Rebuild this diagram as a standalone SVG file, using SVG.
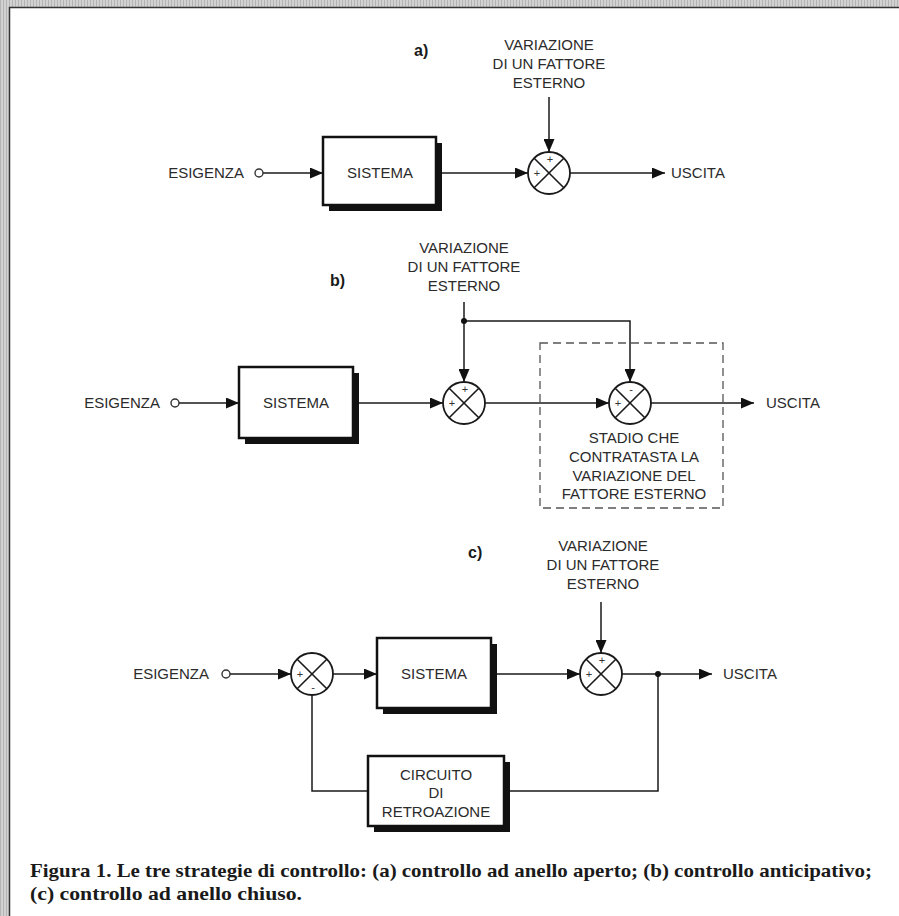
<svg xmlns="http://www.w3.org/2000/svg" width="899" height="916" viewBox="0 0 899 916">
<defs>
<pattern id="stripes" width="3" height="4" patternUnits="userSpaceOnUse">
<rect width="3" height="4" fill="#d2d2d2"/>
<rect width="1" height="4" fill="#b4b4b4"/>
</pattern>
<marker id="arr" markerUnits="userSpaceOnUse" markerWidth="13" markerHeight="11" refX="13" refY="5.5" orient="auto">
<path d="M0,0 L13,5.5 L0,11 z" fill="#111"/>
</marker>
</defs>
<style>
.t{font-family:"Liberation Sans",Arial,sans-serif;font-size:15px;fill:#2b2b2b}
.c{text-anchor:middle}
.lab{font-family:"Liberation Sans",Arial,sans-serif;font-size:16px;font-weight:bold;fill:#1a1a1a}
.sg{font-family:"Liberation Sans",Arial,sans-serif;font-size:11px;fill:#333;text-anchor:middle}
.ln{fill:none;stroke:#1a1a1a;stroke-width:1.5}
.ar{fill:none;stroke:#1a1a1a;stroke-width:1.5;marker-end:url(#arr)}
.box{fill:#fff;stroke:#111;stroke-width:2.5}
.sh{fill:#111}
.sum{fill:#fff;stroke:#1a1a1a;stroke-width:1.8}
.x{stroke:#1a1a1a;stroke-width:1.6}
.port{fill:#fff;stroke:#333;stroke-width:1.4}
.dash{fill:none;stroke:#555;stroke-width:1.3;stroke-dasharray:8 5}
.cap{font-family:"Liberation Serif","Times New Roman",serif;font-size:19px;font-weight:bold;fill:#1a1a1a}
</style>
<rect width="899" height="916" fill="#fff"/>
<rect x="0" y="0" width="9" height="916" fill="url(#stripes)"/>
<rect x="0" y="0" width="899" height="7" fill="url(#stripes)"/>
<line x1="9.5" y1="7" x2="9.5" y2="916" stroke="#333" stroke-width="1.5"/>
<line x1="9" y1="7.5" x2="899" y2="7.5" stroke="#333" stroke-width="1.5"/>

<g id="connectors">
<line class="ar" x1="263" y1="173" x2="323" y2="173"/>
<line class="ar" x1="442" y1="173" x2="528" y2="173"/>
<line class="ar" x1="549" y1="97" x2="549" y2="152"/>
<line class="ar" x1="570" y1="173" x2="665" y2="173"/>
<line class="ar" x1="179" y1="403" x2="239" y2="403"/>
<line class="ar" x1="358" y1="403" x2="443" y2="403"/>
<line class="ar" x1="485" y1="403" x2="609" y2="403"/>
<line class="ar" x1="651" y1="403" x2="754" y2="403"/>
<line class="ar" x1="464" y1="302" x2="464" y2="382"/>
<polyline class="ar" points="464,321 630,321 630,382"/>
<circle cx="464" cy="321" r="3" fill="#111"/>
<line class="ar" x1="230" y1="674" x2="291" y2="674"/>
<line class="ar" x1="333" y1="674" x2="377" y2="674"/>
<line class="ar" x1="496" y1="674" x2="580" y2="674"/>
<line class="ar" x1="601" y1="602" x2="601" y2="653"/>
<line class="ar" x1="622" y1="674" x2="712" y2="674"/>
<polyline class="ln" points="658,674 658,791 508,791"/>
<polyline class="ln" points="368,791 312,791 312,695"/>
<circle cx="658" cy="674" r="3" fill="#111"/>
</g>

<text class="lab" x="414" y="56">a)</text>
<g id="a-var"><text class="t c" x="549" y="50">VARIAZIONE</text><text class="t c" x="549" y="69">DI UN FATTORE</text><text class="t c" x="549" y="88">ESTERNO</text></g>
<g id="a-in"><text class="t" x="244" y="178" text-anchor="end">ESIGENZA</text><circle class="port" cx="259" cy="173" r="4"/></g>
<g id="a-sys"><rect class="sh" x="329" y="143" width="113" height="68"/><rect class="box" x="323" y="137" width="113" height="68"/><text class="t c" x="380" y="178">SISTEMA</text></g>
<g id="a-sum"><circle class="sum" cx="549" cy="173" r="21"/><line class="x" x1="534.2" y1="158.2" x2="563.8" y2="187.8"/><line class="x" x1="563.8" y1="158.2" x2="534.2" y2="187.8"/><text class="sg" x="550" y="163">+</text><text class="sg" x="537" y="177">+</text></g>
<g id="a-out"><text class="t" x="671" y="178">USCITA</text></g>

<text class="lab" x="330" y="286">b)</text>
<g id="b-var"><text class="t c" x="464" y="253">VARIAZIONE</text><text class="t c" x="464" y="272">DI UN FATTORE</text><text class="t c" x="464" y="291">ESTERNO</text></g>
<g id="b-in"><text class="t" x="160" y="408" text-anchor="end">ESIGENZA</text><circle class="port" cx="175" cy="403" r="4"/></g>
<g id="b-sys"><rect class="sh" x="245" y="373" width="114" height="71"/><rect class="box" x="239" y="367" width="114" height="71"/><text class="t c" x="296" y="408">SISTEMA</text></g>
<g id="b-sum1"><circle class="sum" cx="464" cy="403" r="21"/><line class="x" x1="449.2" y1="388.2" x2="478.8" y2="417.8"/><line class="x" x1="478.8" y1="388.2" x2="449.2" y2="417.8"/><text class="sg" x="465" y="393">+</text><text class="sg" x="452" y="407">+</text></g>
<g id="b-stage"><rect class="dash" x="540" y="343" width="183" height="165"/><text class="t c" x="634" y="443">STADIO CHE</text><text class="t c" x="634" y="462">CONTRATASTA LA</text><text class="t c" x="634" y="481">VARIAZIONE DEL</text><text class="t c" x="634" y="499">FATTORE ESTERNO</text></g>
<g id="b-sum2"><circle class="sum" cx="630" cy="403" r="21"/><line class="x" x1="615.2" y1="388.2" x2="644.8" y2="417.8"/><line class="x" x1="644.8" y1="388.2" x2="615.2" y2="417.8"/><text class="sg" x="631" y="393">-</text><text class="sg" x="618" y="407">+</text></g>
<g id="b-out"><text class="t" x="766" y="408">USCITA</text></g>

<text class="lab" x="468" y="558">c)</text>
<g id="c-var"><text class="t c" x="603" y="551">VARIAZIONE</text><text class="t c" x="603" y="570">DI UN FATTORE</text><text class="t c" x="603" y="589">ESTERNO</text></g>
<g id="c-in"><text class="t" x="209" y="679" text-anchor="end">ESIGENZA</text><circle class="port" cx="226" cy="674" r="4"/></g>
<g id="c-sum1"><circle class="sum" cx="312" cy="674" r="21"/><line class="x" x1="297.2" y1="659.2" x2="326.8" y2="688.8"/><line class="x" x1="326.8" y1="659.2" x2="297.2" y2="688.8"/><text class="sg" x="300" y="678">+</text><text class="sg" x="313" y="691">-</text></g>
<g id="c-sys"><rect class="sh" x="383" y="644" width="114" height="70"/><rect class="box" x="377" y="638" width="114" height="70"/><text class="t c" x="434" y="679">SISTEMA</text></g>
<g id="c-sum2"><circle class="sum" cx="601" cy="674" r="21"/><line class="x" x1="586.2" y1="659.2" x2="615.8" y2="688.8"/><line class="x" x1="615.8" y1="659.2" x2="586.2" y2="688.8"/><text class="sg" x="602" y="664">+</text><text class="sg" x="589" y="678">+</text></g>
<g id="c-fb"><rect class="sh" x="374" y="762" width="136" height="70"/><rect class="box" x="368" y="756" width="136" height="70"/><text class="t c" x="436" y="780">CIRCUITO</text><text class="t c" x="436" y="798">DI</text><text class="t c" x="436" y="817">RETROAZIONE</text></g>
<g id="c-out"><text class="t" x="723" y="679">USCITA</text></g>

<text class="cap" x="30" y="877" textLength="842" lengthAdjust="spacingAndGlyphs">Figura 1. Le tre strategie di controllo: (a) controllo ad anello aperto; (b) controllo anticipativo;</text>
<text class="cap" x="30" y="900" textLength="272" lengthAdjust="spacingAndGlyphs">(c) controllo ad anello chiuso.</text>
</svg>
